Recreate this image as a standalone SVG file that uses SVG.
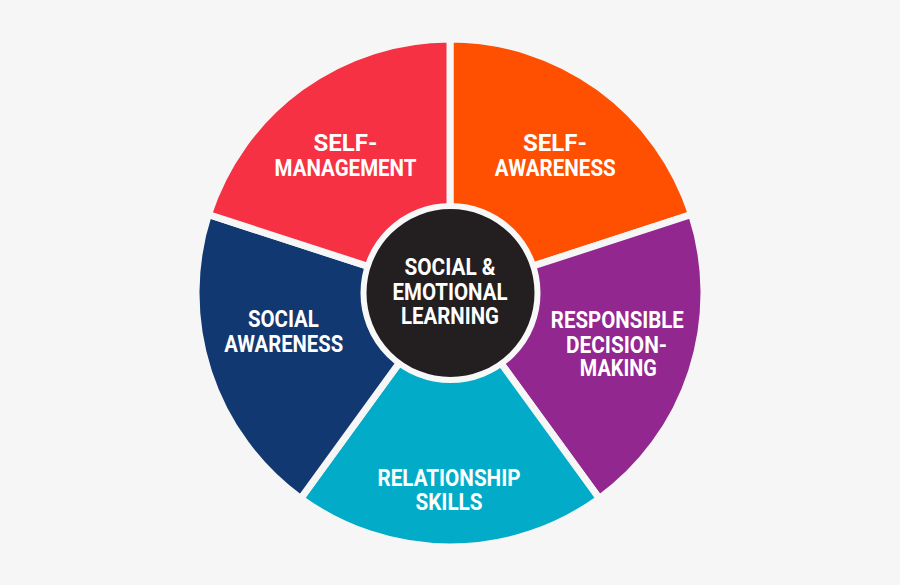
<svg xmlns="http://www.w3.org/2000/svg" width="900" height="585" viewBox="0 0 900 585">
<style>
.w{stroke:#f6f6f6;stroke-width:7;stroke-linejoin:miter}
.t{font-family:Roboto,"Liberation Sans",sans-serif;font-weight:700;font-size:23px;fill:#ffffff;text-anchor:middle}
</style>
<rect width="900" height="585" fill="#f6f6f6"/>
<g id="self-awareness">
<path class="w" fill="#fe5000" d="M450,293 L450,39 A254,254 0 0 1 691.568,214.510 Z"/>
<text class="t" x="555" y="151" textLength="64" lengthAdjust="spacingAndGlyphs">SELF-</text>
<text class="t" x="555.3" y="176" textLength="121" lengthAdjust="spacingAndGlyphs">AWARENESS</text>
</g>
<g id="responsible-decision-making">
<path class="w" fill="#92278f" d="M450,293 L691.568,214.510 A254,254 0 0 1 599.297,498.490 Z"/>
<text class="t" x="617.3" y="328" textLength="133" lengthAdjust="spacingAndGlyphs">RESPONSIBLE</text>
<text class="t" x="616.5" y="353" textLength="101" lengthAdjust="spacingAndGlyphs">DECISION-</text>
<text class="t" x="618.3" y="376" textLength="77" lengthAdjust="spacingAndGlyphs">MAKING</text>
</g>
<g id="relationship-skills">
<path class="w" fill="#02acc8" d="M450,293 L599.297,498.490 A254,254 0 0 1 300.703,498.490 Z"/>
<text class="t" x="449" y="486" textLength="143" lengthAdjust="spacingAndGlyphs">RELATIONSHIP</text>
<text class="t" x="449" y="509.5" textLength="67" lengthAdjust="spacingAndGlyphs">SKILLS</text>
</g>
<g id="social-awareness">
<path class="w" fill="#113871" d="M450,293 L300.703,498.490 A254,254 0 0 1 208.432,214.510 Z"/>
<text class="t" x="283.4" y="327" textLength="71" lengthAdjust="spacingAndGlyphs">SOCIAL</text>
<text class="t" x="283.7" y="352" textLength="119" lengthAdjust="spacingAndGlyphs">AWARENESS</text>
</g>
<g id="self-management">
<path class="w" fill="#f63144" d="M450,293 L208.432,214.510 A254,254 0 0 1 450,39 Z"/>
<text class="t" x="345.5" y="151" textLength="64" lengthAdjust="spacingAndGlyphs">SELF-</text>
<text class="t" x="345.5" y="176" textLength="142" lengthAdjust="spacingAndGlyphs">MANAGEMENT</text>
</g>
<g id="social-emotional-learning">
<circle cx="450.5" cy="293" r="87" fill="#231f20" stroke="#f8f8f8" stroke-width="6"/>
<text class="t" x="450" y="274.5" textLength="91" lengthAdjust="spacingAndGlyphs">SOCIAL &amp;</text>
<text class="t" x="450" y="300" textLength="115" lengthAdjust="spacingAndGlyphs">EMOTIONAL</text>
<text class="t" x="450" y="324" textLength="98" lengthAdjust="spacingAndGlyphs">LEARNING</text>
</g>
<g id="connectors"/>
</svg>
